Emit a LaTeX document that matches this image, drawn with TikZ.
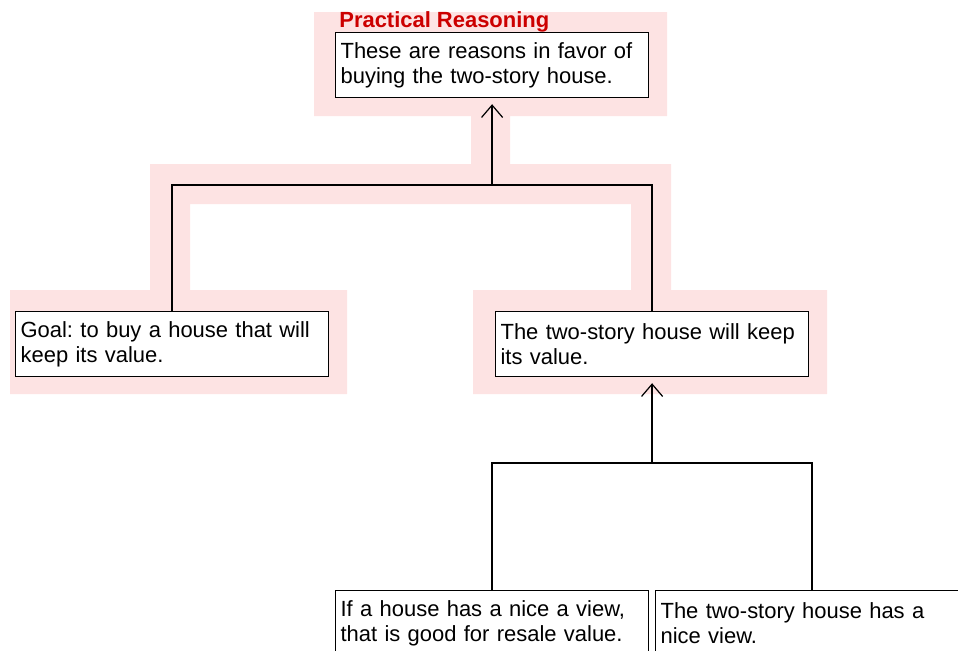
\documentclass[tikz,border=0pt]{standalone}
\usepackage{fontspec}
\setmainfont{Liberation Sans}
\usetikzlibrary{arrows.meta, positioning, calc}
\definecolor{groupbg}{RGB}{253,227,227}
\definecolor{headred}{RGB}{204,0,0}
\frenchspacing

\begin{document}
\begin{tikzpicture}[x=0.02cm, y=-0.02cm,
    claim/.style={draw, fill=white, line width=0.7pt, anchor=north west,
                  text width=6.06cm, inner xsep=0.1cm, inner ysep=0pt,
                  minimum height=1.3cm, align=left,
                  font=\fontsize{12.5}{14.2}\selectfont},
    link/.style={line width=0.7pt},
    arr/.style={link, -{Straight Barb[length=7pt, width=12pt]}, shorten >=3.4pt}
  ]
  \useasboundingbox (0,0) rectangle (958,650);
  \clip (0,0) rectangle (958,650);

  % highlighted argument group
  \fill[groupbg] (314,12) -- (667,12) -- (667,116) -- (510,116) -- (510,164)
    -- (671,164) -- (671,290) -- (827,290) -- (827,394) -- (473,394)
    -- (473,290) -- (631,290) -- (631,204) -- (190,204) -- (190,290)
    -- (347,290) -- (347,394) -- (10,394) -- (10,290) -- (150,290)
    -- (150,164) -- (471,164) -- (471,116) -- (314,116) -- cycle;

  \node[claim] (reason) at (335,32)
    {These are reasons in favor of buying the two-story house.};
  \node[anchor=base west, inner sep=0pt, text=headred,
        font=\fontsize{12.5}{14.2}\selectfont\bfseries] (heading) at (339,27)
    {Practical Reasoning};

  \node[claim] (goal) at (15,311) {Goal: to buy a house that will keep its value.};
  \node[claim] (keep) at (495,311) {The two-story house will keep its value.};

  \node[claim] (rule) at (335,590) {If a house has a nice a view, that is good for resale value.};
  \node[claim] (view) at (655,590) {The two-story house has a nice view.};

  \coordinate (j1) at (reason.south |- 0,185);
  \coordinate (j2) at (keep.south |- 0,463);

  \draw[link] (goal.north) |- (j1) -| (keep.north);
  \draw[arr] (j1) -- (reason.south);

  \draw[link] (rule.north) |- (j2) -| (view.north);
  \draw[arr] (j2) -- (keep.south);
\end{tikzpicture}
\end{document}
